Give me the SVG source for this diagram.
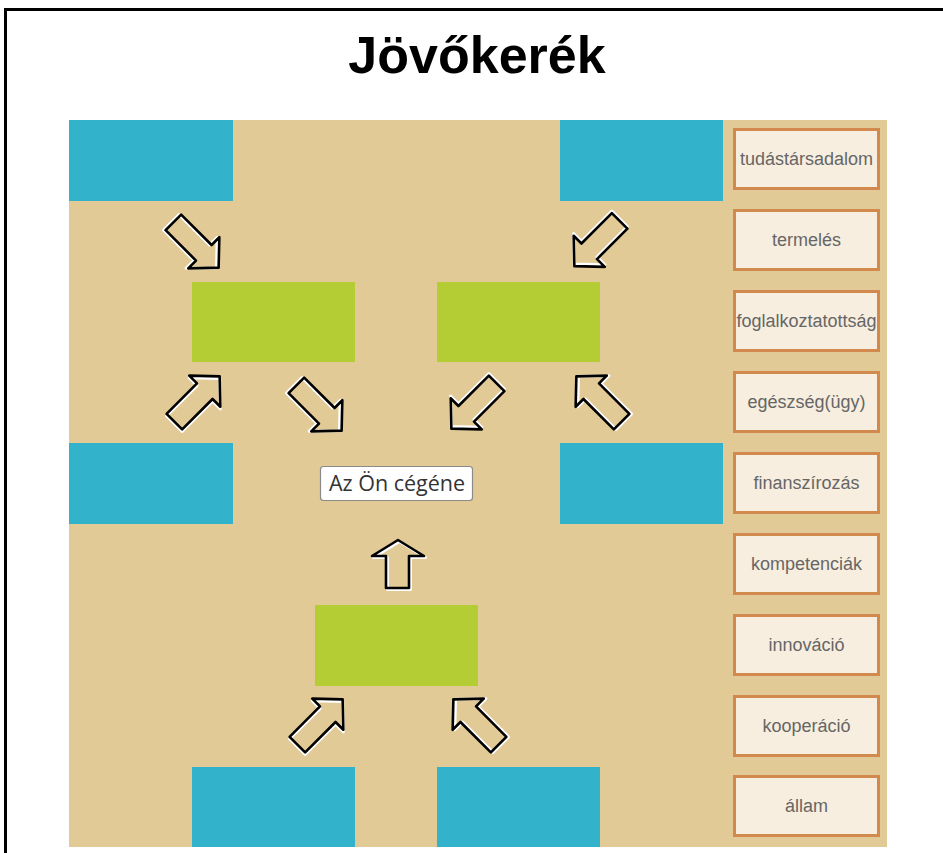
<svg xmlns="http://www.w3.org/2000/svg" xmlns:xlink="http://www.w3.org/1999/xlink" width="943" height="853" viewBox="0 0 943 853">
<style>
.blue{fill:#33b2cc}
.green{fill:#b5cd35}
.lbl rect{fill:#f7eedf;stroke:#d1894d;stroke-width:3}
.lbl text{font-family:"Liberation Sans",Arial,sans-serif;font-size:18px;fill:#666;text-anchor:middle}
.halo{fill:none;stroke:#fff;stroke-width:3;stroke-linejoin:round}
.ink{fill:none;stroke:#000;stroke-width:2.6;stroke-linejoin:round}
</style>
<defs>
<path id="da" d="M0,-32 L22,-11 L11,-11 L11,32 L-11,32 L-11,-11 L-22,-11 Z"/>
<g id="arr">
<use xlink:href="#da" class="halo" transform="translate(1.5,1.5)"/>
<use xlink:href="#da" class="ink"/>
</g>
</defs>
<rect width="943" height="853" fill="#fff"/>
<path d="M5.5,853 V9.5 H943" fill="none" stroke="#000" stroke-width="3"/>
<text x="477" y="73" font-family="'Liberation Sans',Arial,sans-serif" font-size="52" font-weight="bold" text-anchor="middle" fill="#000">Jövőkerék</text>
<rect x="69" y="120" width="818" height="727" fill="#e2ca96"/>
<g id="blue-boxes">
<rect id="b1" class="blue" x="69" y="120" width="164" height="81"/>
<rect id="b2" class="blue" x="560" y="120" width="163" height="81"/>
<rect id="b3" class="blue" x="69" y="443" width="164" height="81"/>
<rect id="b4" class="blue" x="560" y="443" width="163" height="81"/>
<rect id="b5" class="blue" x="192" y="767" width="163" height="80"/>
<rect id="b6" class="blue" x="437" y="767" width="163" height="80"/>
</g>
<g id="green-boxes">
<rect id="g1" class="green" x="192" y="282" width="163" height="80"/>
<rect id="g2" class="green" x="437" y="282" width="163" height="80"/>
<rect id="g3" class="green" x="315" y="605" width="163" height="81"/>
</g>
<g id="center">
<rect x="320.5" y="466.5" width="152" height="34" rx="3" fill="#fff" stroke="#8a8a8a" stroke-width="1.2"/>
<text x="397" y="491" font-family="'Open Sans','DejaVu Sans',sans-serif" font-size="21.5" fill="#333" text-anchor="middle">Az Ön cégéne</text>
</g>
<g id="connectors">
<use xlink:href="#arr" transform="translate(196,245) rotate(135)"/>
<use xlink:href="#arr" transform="translate(597,243.5) rotate(225)"/>
<use xlink:href="#arr" transform="translate(197,399) rotate(45)"/>
<use xlink:href="#arr" transform="translate(319,408) rotate(135)"/>
<use xlink:href="#arr" transform="translate(474,406) rotate(225)"/>
<use xlink:href="#arr" transform="translate(599,399) rotate(-45)"/>
<use xlink:href="#arr" transform="translate(320,722) rotate(45)"/>
<use xlink:href="#arr" transform="translate(476,722) rotate(-45)"/>
<path class="halo" transform="translate(1.5,1.5)" d="M398,540 L424,556 L409,556 L409,588 L386,588 L386,556 L372,556 Z"/>
<path class="ink" d="M398,540 L424,556 L409,556 L409,588 L386,588 L386,556 L372,556 Z"/>
</g>
<g id="labels">
<g id="l1" class="lbl"><rect x="734.5" y="129.5" width="144" height="59"/><text x="806.5" y="165">tudástársadalom</text></g>
<g id="l2" class="lbl"><rect x="734.5" y="210.5" width="144" height="59"/><text x="806.5" y="246">termelés</text></g>
<g id="l3" class="lbl"><rect x="734.5" y="291.5" width="144" height="59"/><text x="806.5" y="327">foglalkoztatottság</text></g>
<g id="l4" class="lbl"><rect x="734.5" y="372.5" width="144" height="59"/><text x="806.5" y="408">egészség(ügy)</text></g>
<g id="l5" class="lbl"><rect x="734.5" y="453.5" width="144" height="59"/><text x="806.5" y="489">finanszírozás</text></g>
<g id="l6" class="lbl"><rect x="734.5" y="534.5" width="144" height="59"/><text x="806.5" y="570">kompetenciák</text></g>
<g id="l7" class="lbl"><rect x="734.5" y="615.5" width="144" height="59"/><text x="806.5" y="651">innováció</text></g>
<g id="l8" class="lbl"><rect x="734.5" y="696.5" width="144" height="59"/><text x="806.5" y="732">kooperáció</text></g>
<g id="l9" class="lbl"><rect x="734.5" y="776.5" width="144" height="59"/><text x="806.5" y="812">állam</text></g>
</g>
</svg>
